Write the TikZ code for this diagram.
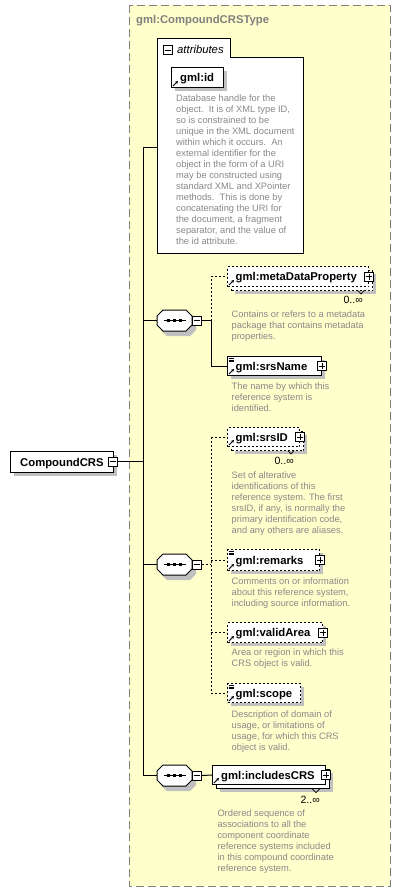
\documentclass[tikz,border=0pt]{standalone}
\usepackage{fontspec}
\setmainfont{Liberation Sans}
\usetikzlibrary{arrows.meta}
\definecolor{bgyellow}{HTML}{FFFFCC}
\definecolor{shadowc}{HTML}{C0C0C0}
\definecolor{desccol}{HTML}{888888}
\definecolor{framecol}{HTML}{808080}
\newcommand\descfont{\fontsize{9.3}{11}\selectfont}
\newcommand\lblfont{\fontsize{11.3}{13}\selectfont\bfseries}
% element box: name, x1, y1, x2, y2, extra style
\newcommand\elem[6]{%
  \fill[shadowc] (#2+4,#3+4) rectangle (#4+4,#5+4);
  \node[ebox,#6,minimum width={#4-#2},minimum height={#5-#3}] (#1) at (#2,#3) {};
}
% stacked element box (multiple occurrence)
\newcommand\stelem[6]{%
  \fill[shadowc] (#2+8,#3+8) rectangle (#4+8,#5+8);
  \node[ebox,#6,minimum width={#4-#2},minimum height={#5-#3}] (#1back) at (#2+4,#3+4) {};
  \node[ebox,#6,minimum width={#4-#2},minimum height={#5-#3}] (#1) at (#2,#3) {};
}
\newcommand\refarrow[1]{\draw[line width=0.9pt,-{Stealth[length=3pt,width=3.2pt]}] ([shift={(2,-2)}]#1.south west) -- ([shift={(7,-7)}]#1.south west);}
\newcommand\simplemark[1]{\foreach \d in {2,3.8,5.6}{\draw[line width=0.6pt] ([shift={(1.5,\d)}]#1.north west) -- ++(5,0);}}
\newcommand\plusbox[2]{\node[pm] (#1) at (#2) {};
  \draw[line width=0.8pt] ([xshift=-3pt]#1.center) -- ([xshift=3pt]#1.center);
  \draw[line width=0.8pt] ([yshift=-3pt]#1.center) -- ([yshift=3pt]#1.center);}
\newcommand\minusbox[2]{\node[pm] (#1) at (#2) {};
  \draw[line width=0.8pt] ([xshift=-3pt]#1.center) -- ([xshift=3pt]#1.center);}
% sequence compositor: name, cx, cy
\newcommand\seqoct[3]{%
  \begin{scope}[shift={(#2+4,#3+5)}]
    \fill[shadowc] (-11.5,-10.5) -- (11.5,-10.5) -- (17.5,-4.5) -- (17.5,4.5) -- (11.5,10.5) -- (-11.5,10.5) -- (-17.5,4.5) -- (-17.5,-4.5) -- cycle;
  \end{scope}
  \node[seqn] (#1) at (#2,#3) {};
  \begin{scope}[shift={(#2,#3)}]
    \draw[line width=1pt, fill=white] (-11.5,-10.5) -- (11.5,-10.5) -- (17.5,-4.5) -- (17.5,4.5) -- (11.5,10.5) -- (-11.5,10.5) -- (-17.5,4.5) -- (-17.5,-4.5) -- cycle;
    \draw[line width=1pt] (-11,0) -- (11,0);
    \foreach \dx in {-6,0,6}{\fill (\dx-1.6,-1.6) rectangle (\dx+1.6,1.6);}
  \end{scope}
  \minusbox{#1m}{[xshift=4.5pt]#1.east}
}
\begin{document}
\begin{tikzpicture}[x=1pt,y=-1pt,
  ebox/.style={draw=black, fill=white, line width=1pt, inner sep=0pt, anchor=north west},
  dsh/.style={dash pattern=on 2pt off 2pt},
  lbl/.style={font=\lblfont, inner sep=0pt, anchor=base west},
  desc/.style={font=\descfont, text=desccol, inner sep=0pt, anchor=north west, align=left, execute at begin node=\strut},
  mult/.style={font=\fontsize{10.5}{12}\selectfont, inner sep=0pt, anchor=base east},
  pm/.style={draw=black, fill=white, line width=0.8pt, minimum size=9pt, inner sep=0pt},
  seqn/.style={rectangle, draw=none, minimum width=35pt, minimum height=21pt, inner sep=0pt},
  conn/.style={line width=1pt}
]
\useasboundingbox (0,0) rectangle (401,892);
\fill[white] (0,0) rectangle (401,892);

% type frame
\draw[framecol, fill=bgyellow, line width=1pt, dash pattern=on 8pt off 4pt] (129,5) rectangle (390,886);
\node[font=\lblfont, text=framecol, inner sep=0pt, anchor=base west] (title) at (136,23.5) {gml:CompoundCRSType};

% attributes
\draw[line width=1pt, fill=white] (157,38) -- (230,38) -- (230,57) -- (303,57) -- (303,253) -- (157,253) -- cycle;
\coordinate (attrw) at (157,147);
\minusbox{attrm}{167.5,50}
\node[font=\fontsize{11.3}{13}\selectfont\itshape, inner sep=0pt, anchor=base west] (attrl) at (177,53.5) {attributes};
\elem{gid}{171}{67}{223}{87}{}
\refarrow{gid}
\node[lbl] (gidl) at ([xshift=9pt,yshift=-4pt]gid.west) {gml:id};
\node[desc] (giddesc) at (176,94.5) {Database handle for the\\object.\ \ It is of XML type ID,\\so is constrained to be\\unique in the XML document\\within which it occurs.\ \ An\\external identifier for the\\object in the form of a URI\\may be constructed using\\standard XML and XPointer\\methods.\ \ This is done by\\concatenating the URI for\\the document, a fragment\\separator, and the value of\\the id attribute.};

% root
\elem{root}{10}{451}{113}{472}{}
\node[lbl] (rootl) at ([xshift=10pt,yshift=-4pt]root.west) {CompoundCRS};
\minusbox{rootm}{113,461.5}

% main vertical
\coordinate (vt) at (143,147);
\coordinate (vb) at (143,775.5);
\draw[conn] (vt) -- (vb);
\draw[conn] (vt) -- (attrw);
\draw[conn] (rootm.east) -- (rootm.east -| vt);

% sequence 1
\seqoct{s1}{174.5}{320.5}
\draw[conn] (s1.west -| vt) -- (s1.west);
\stelem{md}{227}{266}{368}{286}{dsh}
\refarrow{md}
\plusbox{mdp}{md.east}
\node[lbl] (mdl) at ([xshift=8.5pt,yshift=-4pt]md.west) {gml:metaDataProperty};
\draw[line width=0.7pt] (358,290.5) -- (361,294) -- (364,290.5);
\node[mult] (mdm) at (363,303.5) {0..∞};
\node[desc] (mddesc) at (231.5,311) {Contains or refers to a metadata\\package that contains metadata\\properties.};

\elem{sn}{227}{356}{321}{375}{}
\refarrow{sn}
\simplemark{sn}
\plusbox{snp}{sn.east}
\node[lbl] (snl) at ([xshift=8.5pt,yshift=-4pt]sn.west) {gml:srsName};
\node[desc] (sndesc) at (231.5,383) {The name by which this\\reference system is\\identified.};

\coordinate (j1) at (211,320.5);
\draw[conn] (s1m.east) -- (j1);
\draw[conn,dsh] (j1) -- (j1 |- md.west) -- (md.west);
\draw[conn] (j1) -- (j1 |- sn.west) -- (sn.west);

% sequence 2
\seqoct{s2}{174.5}{564.5}
\draw[conn] (s2.west -| vt) -- (s2.west);
\stelem{sid}{227}{427}{299}{446}{dsh}
\refarrow{sid}
\plusbox{sidp}{sid.east}
\node[lbl] (sidl) at ([xshift=8.5pt,yshift=-4pt]sid.west) {gml:srsID};
\draw[line width=0.7pt] (288,450.5) -- (291,454) -- (294,450.5);
\node[mult] (sidm) at (294,464.5) {0..∞};
\node[desc] (siddesc) at (231.5,472) {Set of alterative\\identifications of this\\reference system. The first\\srsID, if any, is normally the\\primary identification code,\\and any others are aliases.};

\elem{rem}{227}{549}{319}{570}{dsh}
\refarrow{rem}
\simplemark{rem}
\plusbox{remp}{rem.east}
\node[lbl] (reml) at ([xshift=8.5pt,yshift=-4pt]rem.west) {gml:remarks};
\node[desc] (remdesc) at (231.5,577.3) {Comments on or information\\about this reference system,\\including source information.};

\elem{va}{227}{622}{322}{642}{dsh}
\refarrow{va}
\plusbox{vap}{va.east}
\node[lbl] (val) at ([xshift=8.5pt,yshift=-4pt]va.west) {gml:validArea};
\node[desc] (vadesc) at (231.5,648.6) {Area or region in which this\\CRS object is valid.};

\elem{sc}{227}{683}{300}{702}{dsh}
\refarrow{sc}
\simplemark{sc}
\node[lbl] (scl) at ([xshift=8.5pt,yshift=-4pt]sc.west) {gml:scope};
\node[desc] (scdesc) at (231.5,710.3) {Description of domain of\\usage, or limitations of\\usage, for which this CRS\\object is valid.};

\coordinate (j2) at (211,564.5);
\draw[conn,dsh] (s2m.east) -- (j2);
\draw[conn,dsh] (j2 |- sid.west) -- (j2 |- sc.west);
\draw[conn,dsh] (j2 |- sid.west) -- (sid.west);
\draw[conn,dsh] (j2 |- rem.west) -- (rem.west);
\draw[conn,dsh] (j2 |- va.west) -- (va.west);
\draw[conn,dsh] (j2 |- sc.west) -- (sc.west);

% sequence 3
\seqoct{s3}{174.5}{775.5}
\draw[conn] (vb) -- (s3.west);
\stelem{inc}{212}{765}{325}{784}{}
\refarrow{inc}
\plusbox{incp}{inc.east}
\node[lbl] (incl) at ([xshift=9pt,yshift=-4pt]inc.west) {gml:includesCRS};
\draw[line width=0.7pt] (312,788.5) -- (316,792.5) -- (320,788.5);
\node[mult] (incm) at (320,803) {2..∞};
\draw[conn] (s3m.east) -- (inc.west);
\node[desc] (incdesc) at (217.3,809.3) {Ordered sequence of\\associations to all the\\component coordinate\\reference systems included\\in this compound coordinate\\reference system.};
\end{tikzpicture}
\end{document}
